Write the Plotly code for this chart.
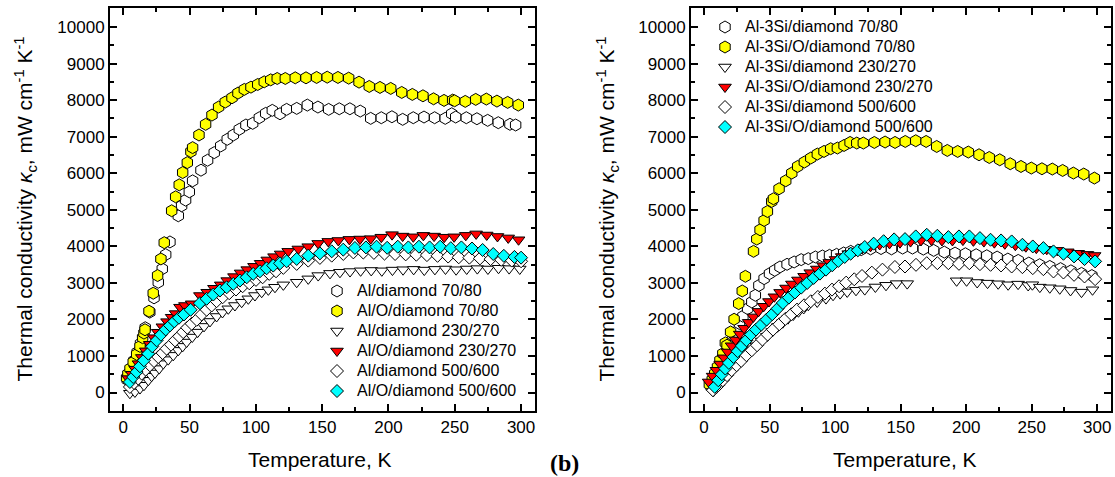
import plotly.graph_objects as go

FONT = "Liberation Sans, Arial, sans-serif"

# ---------------- Left panel: Al matrix composites ----------------
al_d7080_T = [3.0, 5.5, 8.0, 10.5, 13.0, 16.6, 20.0, 23.2, 26.4, 29.4, 32.0, 35.2, 41.5, 44.0, 47.0, 49.8,
              52.3, 58.6, 63.6, 68.6, 73.5, 78.4, 83.0, 87.5, 92.5, 97.6, 102.6, 107.4, 112.4, 118.2, 123.2,
              130.8, 138.8, 146.8, 154.9, 162.9, 170.9, 178.7, 186.6, 194.6, 202.6, 210.7, 218.7, 226.8,
              234.8, 242.8, 247.7, 250.7, 258.7, 266.7, 274.8, 282.8, 291.6, 295.9]
al_d7080_k = [350, 620, 870, 1100, 1340, 1773, 2200, 2591, 3017, 3382, 3772, 4120, 4836, 5109, 5264, 5491,
              5791, 6083, 6356, 6563, 6746, 6928, 7046, 7201, 7319, 7365, 7518, 7638, 7720, 7627, 7747,
              7774, 7864, 7810, 7747, 7763, 7763, 7700, 7501, 7518, 7545, 7474, 7518, 7537,
              7518, 7501, 7627, 7537, 7518, 7491, 7447, 7382, 7338, 7319]

alo_d7080_T = [2.5, 3.5, 5.1, 7.5, 10.1, 12.6, 14.6, 15.6, 16.4, 19.4, 22.6, 25.9, 28.4, 30.9, 36.5, 39.5,
               42.2, 44.8, 48.3, 51.0, 52.3, 57.1, 62.1, 66.9, 71.9, 76.9, 82.0, 86.5, 91.3, 96.3, 101.4,
               106.3, 111.2, 116.1, 122.2, 129.7, 137.8, 145.8, 153.8, 161.9, 170.0, 177.8, 185.5, 193.6,
               201.7, 210.0, 218.0, 226.0, 234.0, 241.9, 248.4, 249.9, 257.9, 265.8, 273.8, 281.8, 289.9, 297.9]
alo_d7080_k = [400, 510, 655, 835, 1045, 1263, 1500, 1626, 1718, 2226, 2717, 3200, 3655, 4100, 4973, 5355,
               5682, 6018, 6290, 6590, 6700, 7046, 7337, 7591, 7810, 7946, 8064, 8192, 8293, 8355, 8428,
               8500, 8555, 8592, 8592, 8610, 8610, 8620, 8628, 8620, 8601, 8492, 8374, 8347,
               8320, 8210, 8156, 8118, 8036, 7992, 8001, 7982, 7965, 8020, 8028, 7973, 7938, 7864]

al_d230_T = [5.0, 8.8, 12.6, 15.6, 18.9, 21.4, 23.9, 27.1, 30.2, 33.9, 37.7, 41.5, 44.8, 47.8, 52.0, 56.1,
             60.9, 65.4, 70.4, 74.8, 79.2, 84.2, 89.3, 94.3, 99.3, 104.4, 109.4, 114.4, 120.7, 130.8, 139.5,
             147.0, 155.9, 163.4, 171.0, 179.0, 187.0, 195.0, 203.0, 211.0, 219.0, 227.0, 235.0, 243.0,
             251.0, 259.0, 267.0, 275.0, 283.0, 291.0, 299.0]
al_d230_k = [-20, 16, 109, 199, 336, 445, 535, 655, 791, 900, 1017, 1154, 1263, 1381, 1517, 1653,
             1809, 1945, 2081, 2190, 2291, 2381, 2471, 2564, 2654, 2744, 2810, 2880, 2946, 3017, 3110,
             3200, 3260, 3290, 3310, 3330, 3340, 3330, 3350, 3360, 3370, 3350, 3370, 3380,
             3360, 3380, 3390, 3380, 3400, 3390, 3380]

alo_d230_T = [3.8, 6.5, 9.0, 11.5, 14.0, 17.0, 20.0, 23.0, 26.0, 29.5, 33.0, 36.5, 39.5, 42.8, 46.5, 51.6,
              57.8, 63.3, 68.4, 73.5, 78.4, 83.5, 88.5, 93.5, 98.6, 103.6, 108.6, 113.7, 118.7, 124.4, 132.0,
              139.5, 147.0, 154.6, 162.2, 170.5, 178.5, 186.6, 194.6, 202.7, 210.7, 218.7, 226.3, 234.4,
              242.0, 249.5, 258.3, 266.1, 274.1, 282.2, 290.3, 298.1]
alo_d230_k = [382, 500, 640, 790, 960, 1140, 1320, 1500, 1650, 1800, 1940, 2060, 2160, 2335, 2381, 2428,
              2654, 2744, 2853, 2946, 3063, 3172, 3273, 3363, 3453, 3535, 3628, 3718, 3792, 3863, 3928,
              3991, 4080, 4135, 4160, 4190, 4200, 4210, 4250, 4320, 4280, 4260, 4300, 4280,
              4250, 4260, 4300, 4340, 4310, 4270, 4230, 4180]

al_d500_T = [5.0, 8.1, 11.3, 13.9, 16.9, 20.1, 23.2, 26.4, 29.7, 32.7, 36.0, 39.0, 42.2, 45.2, 48.3, 51.6,
             55.4, 59.1, 62.9, 66.7, 70.4, 75.0, 79.9, 85.0, 90.0, 95.0, 100.1, 105.1, 110.1, 115.2, 120.7,
             130.8, 139.5, 148.3, 157.2, 165.9, 173.5, 181.0, 189.0, 197.0, 205.0, 213.0, 221.0, 229.0,
             237.0, 245.0, 253.0, 261.0, 269.0, 277.0, 285.0, 293.0, 300.0]
al_d500_k = [153, 262, 382, 518, 627, 745, 862, 971, 1080, 1200, 1309, 1427, 1536, 1653, 1773, 1882,
             1991, 2136, 2264, 2381, 2499, 2608, 2717, 2818, 2908, 2990, 3082, 3153, 3246, 3317, 3410,
             3519, 3609, 3683, 3745, 3792, 3835, 3830, 3820, 3800, 3790, 3780, 3770, 3760,
             3740, 3720, 3700, 3690, 3670, 3650, 3630, 3610, 3590]

alo_d500_T = [5.0, 7.5, 10.1, 12.6, 15.6, 18.9, 21.9, 25.2, 28.4, 32.0, 35.2, 38.5, 42.0, 45.8, 50.8, 57.8,
              62.9, 67.9, 72.9, 78.0, 83.0, 88.0, 93.1, 98.0, 103.1, 108.1, 113.1, 118.2, 123.2, 130.8,
              139.5, 148.3, 157.2, 165.9, 174.7, 183.0, 191.0, 199.0, 207.0, 215.0, 223.0, 231.0, 239.0,
              247.0, 255.0, 263.0, 271.0, 279.0, 287.0, 295.0, 300.0]
alo_d500_k = [289, 425, 562, 717, 881, 1063, 1263, 1427, 1582, 1727, 1836, 1945, 2046, 2136, 2264, 2444,
              2564, 2681, 2791, 2880, 2973, 3063, 3153, 3246, 3317, 3399, 3473, 3535, 3590, 3655,
              3745, 3808, 3863, 3909, 3955, 3970, 3990, 3960, 3990, 3970, 3990, 3970, 3990,
              3950, 3970, 3940, 3900, 3790, 3740, 3710, 3690]

# ---------------- Right panel: Al-3Si matrix composites ----------------
si_d7080_T = [5.4, 8.1, 10.8, 13.5, 16.2, 18.9, 21.6, 24.3, 27.0, 29.6, 33.2, 36.4, 39.1, 41.8, 45.8, 49.9,
              53.9, 57.9, 63.3, 68.7, 74.1, 79.5, 84.9, 90.3, 95.7, 101.1, 106.5, 111.9, 119.9, 127.0, 135.0,
              143.0, 151.5, 159.0, 167.3, 175.2, 183.3, 191.5, 199.4, 207.6, 215.7, 223.6, 231.8, 239.7,
              247.8, 256.0, 263.8, 272.0, 279.9, 288.0, 295.9]
si_d7080_k = [155, 337, 565, 747, 975, 1203, 1431, 1658, 1886, 2087, 2296, 2478, 2661, 2930, 3116, 3253,
              3344, 3435, 3508, 3572, 3636, 3663, 3709, 3736, 3754, 3781, 3818, 3863, 3909, 3930, 3940,
              3930, 3952, 3952, 3924, 3888, 3842, 3815, 3797, 3770, 3742, 3706, 3651, 3615,
              3542, 3496, 3450, 3390, 3330, 3260, 3200]

sio_d7080_T = [4.0, 6.2, 8.1, 10.2, 12.1, 14.3, 16.2, 17.5, 20.2, 22.9, 26.4, 29.1, 31.5, 37.7, 40.2, 42.7,
               45.8, 48.3, 51.6, 52.9, 57.2, 62.3, 66.9, 71.4, 76.5, 81.4, 86.4, 91.5, 96.6, 101.7, 106.8,
               111.4, 116.5, 121.5, 129.9, 138.1, 145.7, 153.5, 161.5, 169.4, 177.5, 185.6, 193.5, 201.6,
               209.8, 217.6, 225.6, 233.6, 241.8, 249.7, 257.8, 265.7, 273.6, 281.8, 289.7, 297.8]
sio_d7080_k = [220, 355, 519, 702, 884, 1066, 1358, 1294, 1658, 2005, 2433, 2779, 3180, 3863, 4198, 4453,
               4708, 4953, 5227, 5301, 5575, 5794, 6004, 6185, 6305, 6415, 6524, 6596, 6670, 6689, 6760,
               6842, 6825, 6825, 6842, 6853, 6842, 6869, 6888, 6869, 6732, 6623, 6596, 6579,
               6505, 6431, 6368, 6259, 6185, 6141, 6122, 6114, 6076, 6004, 5977, 5867]

si_d230_T = [7.0, 9.5, 12.0, 15.0, 18.0, 21.0, 24.0, 27.0, 30.0, 33.0, 36.5, 40.0, 44.0, 48.0, 52.0, 56.0,
             60.0, 64.0, 68.0, 72.0, 76.0, 79.5, 86.3, 93.0, 98.4, 103.8, 109.2, 115.9, 122.6, 130.7, 138.8,
             146.9, 155.0, 192.7, 200.3, 208.4, 216.3, 224.4, 232.0, 239.6, 247.3, 250.5, 256.2, 263.8,
             271.4, 279.6, 288.0, 296.4]
si_d230_k = [30, 120, 220, 340, 460, 580, 700, 820, 930, 1040, 1160, 1280, 1410, 1540, 1670, 1800,
             1910, 2020, 2120, 2210, 2300, 2387, 2478, 2570, 2661, 2706, 2752, 2797, 2816, 2888, 2934,
             2980, 2980, 3057, 3057, 3011, 2993, 2975, 2948, 2966, 2929, 2950, 2884, 2866,
             2838, 2793, 2747, 2811]

sio_d230_T = [3.5, 6.5, 9.4, 12.3, 15.2, 18.0, 21.0, 24.0, 27.2, 30.5, 34.0, 37.6, 41.5, 45.5, 49.5, 53.6,
              58.0, 62.5, 67.0, 71.6, 76.3, 81.0, 86.0, 90.8, 95.5, 100.3, 105.0, 110.0, 115.0, 120.5, 127.0,
              134.0, 141.5, 149.5, 157.5, 165.5, 173.5, 181.5, 189.5, 197.5, 205.5, 213.5, 221.5, 229.5,
              237.5, 245.5, 253.5, 261.5, 269.5, 277.5, 285.5, 292.5, 298.0]
sio_d230_k = [290, 450, 610, 780, 950, 1110, 1280, 1440, 1600, 1760, 1920, 2070, 2220, 2360, 2490, 2620,
              2740, 2860, 2970, 3080, 3180, 3280, 3380, 3470, 3560, 3640, 3720, 3800, 3870, 3940, 4000,
              4050, 4080, 4100, 4130, 4160, 4170, 4160, 4160, 4170, 4150, 4130, 4100, 4070,
              4030, 3990, 3950, 3920, 3890, 3850, 3810, 3780, 3750]

si_d500_T = [6.7, 10.8, 14.3, 17.5, 21.0, 24.8, 28.3, 32.3, 36.4, 40.4, 44.5, 48.5, 52.6, 57.4, 62.0, 66.6,
             70.9, 76.3, 81.4, 86.8, 92.2, 97.6, 103.0, 108.4, 114.6, 120.5, 128.0, 136.1, 145.6, 153.3,
             161.7, 169.9, 178.0, 186.4, 194.5, 202.4, 210.5, 218.6, 226.6, 234.7, 242.9, 250.8, 258.9,
             266.6, 274.2, 282.3, 290.3, 298.4]
si_d500_k = [64, 200, 337, 474, 610, 747, 866, 1021, 1157, 1294, 1449, 1585, 1722, 1868, 2014, 2141,
             2269, 2387, 2497, 2615, 2706, 2816, 2907, 3007, 3098, 3189, 3280, 3362, 3435, 3448,
             3494, 3539, 3539, 3539, 3521, 3539, 3512, 3494, 3476, 3448, 3430, 3403, 3375,
             3312, 3284, 3220, 3175, 3102]

sio_d500_T = [8.1, 10.8, 13.5, 16.2, 18.9, 22.4, 25.6, 28.8, 32.3, 35.8, 39.6, 43.7, 47.7, 52.0, 56.1, 60.1,
              64.7, 69.3, 74.1, 78.7, 83.6, 88.4, 93.0, 97.8, 102.4, 107.3, 111.9, 117.3, 122.6, 129.4,
              137.0, 145.0, 153.3, 161.5, 169.9, 178.0, 186.4, 194.5, 202.4, 210.5, 218.6, 226.6, 234.7,
              242.9, 250.8, 258.9, 266.6, 274.2, 282.3, 290.3, 298.4]
sio_d500_k = [155, 337, 501, 656, 811, 975, 1130, 1276, 1431, 1585, 1722, 1859, 1996, 2141, 2296, 2451,
              2597, 2734, 2870, 2998, 3135, 3253, 3362, 3481, 3599, 3709, 3800, 3891, 3982, 4073,
              4140, 4190, 4198, 4271, 4316, 4289, 4252, 4271, 4271, 4225, 4180, 4161, 4134,
              4043, 3997, 3952, 3861, 3797, 3724, 3651, 3587]

# legend labels
left_names = ["Al/diamond 70/80", "Al/O/diamond 70/80", "Al/diamond 230/270",
              "Al/O/diamond 230/270", "Al/diamond 500/600", "Al/O/diamond 500/600"]
right_names = ["Al-3Si/diamond 70/80", "Al-3Si/O/diamond 70/80", "Al-3Si/diamond 230/270",
               "Al-3Si/O/diamond 230/270", "Al-3Si/diamond 500/600", "Al-3Si/O/diamond 500/600"]

# marker style per series position (shared by both panels)
styles = [
    dict(symbol="hexagon", size=12, color="white"),
    dict(symbol="hexagon", size=12, color="#FFFF00"),
    dict(symbol="triangle-down", size=11, color="white"),
    dict(symbol="triangle-down", size=11, color="#FF0000"),
    dict(symbol="diamond", size=10, color="white"),
    dict(symbol="diamond", size=10, color="#00FFFF"),
]

left_data = [(al_d7080_T, al_d7080_k), (alo_d7080_T, alo_d7080_k), (al_d230_T, al_d230_k),
             (alo_d230_T, alo_d230_k), (al_d500_T, al_d500_k), (alo_d500_T, alo_d500_k)]
right_data = [(si_d7080_T, si_d7080_k), (sio_d7080_T, sio_d7080_k), (si_d230_T, si_d230_k),
              (sio_d230_T, sio_d230_k), (si_d500_T, si_d500_k), (sio_d500_T, sio_d500_k)]

fig = go.Figure()


def add_series(data, names, xa, ya, legend):
    # legend rows are packed at 20 px: small base font, 16 px text via span
    for (T, k), name, st in zip(data, names, styles):
        fig.add_trace(go.Scatter(
            x=T, y=k, mode="markers", xaxis=xa, yaxis=ya, legend=legend,
            name='<span style="font-size:16px">' + name + '</span>',
            marker=dict(symbol=st["symbol"], size=st["size"], color=st["color"],
                        line=dict(color="black", width=1)),
        ))


add_series(left_data, left_names, "x", "y", "legend")
add_series(right_data, right_names, "x2", "y2", "legend2")

W, H = 1115, 477
TOP, BOTTOM = 8, 411


def xaxis(domain, anchor):
    return dict(domain=domain, anchor=anchor, range=[-10, 310.5], tick0=0, dtick=50,
                showline=True, linecolor="black", linewidth=2, mirror="allticks",
                ticks="inside", ticklen=7, tickwidth=1.5, tickcolor="black",
                showgrid=False, zeroline=False,
                tickfont=dict(family=FONT, size=17, color="black"),
                minor=dict(ticks="inside", ticklen=4, tickwidth=1.5, tickcolor="black",
                           dtick=25, tick0=0, showgrid=False))


def yaxis(anchor):
    return dict(domain=[1 - BOTTOM / H, 1 - TOP / H], anchor=anchor, range=[-505, 10520],
                tick0=0, dtick=1000, tickformat="d",
                showline=True, linecolor="black", linewidth=2, mirror="allticks",
                ticks="inside", ticklen=7, tickwidth=1.5, tickcolor="black",
                showgrid=False, zeroline=False,
                tickfont=dict(family=FONT, size=17, color="black"),
                minor=dict(ticks="inside", ticklen=4, tickwidth=1.5, tickcolor="black",
                           dtick=500, tick0=0, showgrid=False))


ytitle = "Thermal conductivity <i>κ</i><sub>c</sub>, mW cm<sup>-1</sup> K<sup>-1</sup>"
title_font = dict(family=FONT, size=21, color="black")

annotations = [
    dict(text=ytitle, x=25 / W, y=1 - 209.5 / H, textangle=-90, font=title_font),
    dict(text=ytitle, x=607 / W, y=1 - 209.5 / H, textangle=-90, font=title_font),
    dict(text="Temperature, K", x=320 / W, y=1 - 459 / H, font=title_font),
    dict(text="Temperature, K", x=905 / W, y=1 - 459 / H, font=title_font),
    dict(text="<b>(b)</b>", x=564 / W, y=1 - 463 / H,
         font=dict(family="Liberation Serif, Times New Roman, serif", size=24, color="black")),
]
for a in annotations:
    a.update(xref="paper", yref="paper", showarrow=False, xanchor="center", yanchor="middle")

legend_common = dict(font=dict(family=FONT, size=13.08, color="black"), bgcolor="rgba(0,0,0,0)",
                     borderwidth=0, xanchor="left", yanchor="top", tracegroupgap=0,
                     itemclick=False)

fig.update_layout(
    width=W, height=H, margin=dict(l=0, r=0, t=0, b=0),
    paper_bgcolor="white", plot_bgcolor="white",
    font=dict(family=FONT, color="black"),
    xaxis=xaxis([110 / W, 535 / W], "y"),
    yaxis=yaxis("x"),
    xaxis2=xaxis([691 / W, 1111 / W], "y2"),
    yaxis2=yaxis("x2"),
    legend=dict(x=317 / W, y=1 - 276 / H, **legend_common),
    legend2=dict(x=705 / W, y=1 - 12 / H, **legend_common),
    annotations=annotations,
)

fig.write_html("out.html")
